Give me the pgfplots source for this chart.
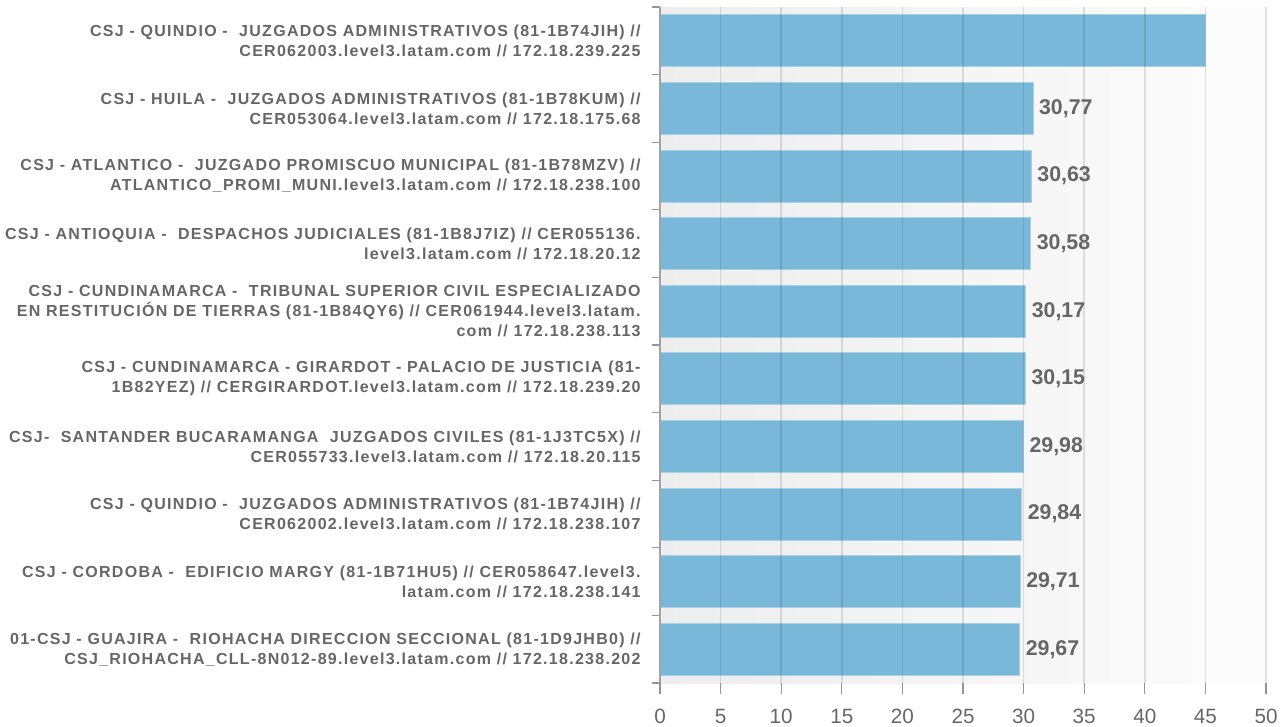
\documentclass[border=0pt]{standalone}
\usepackage{fontspec}
\setmainfont{Liberation Sans}
\newfontfamily\lblfont{Liberation Sans}[LetterSpace=8]
\usepackage{pgfplots}
\pgfplotsset{compat=1.18}
\definecolor{barc}{HTML}{7AB8D9}
\definecolor{txt}{HTML}{666666}

\begin{document}
\begin{tikzpicture}
\useasboundingbox (0,0) rectangle (966pt,-545.25pt);
\begin{axis}[
    at={(495pt,-512.25pt)}, anchor=south west,
    width=454.5pt, height=507pt, scale only axis,
    axis on top,
    xbar, bar width=39pt,
    xmin=0, xmax=50, xtick={0,5,...,50},
    ymin=-0.5, ymax=9.5, y dir=reverse,
    ytick={0,...,9},
    minor ytick={-0.5,0.5,...,9.5},
    tick align=outside,
    major tick length=8pt, minor tick length=6pt,
    every major y tick/.append style={draw=none},
    tick style={draw=txt!70, line width=1pt},
    axis lines*=left,
    x axis line style={draw=none},
    y axis line style={draw=txt!60, line width=1pt},
    xmajorgrids, grid style={draw=black, draw opacity=0.11, line width=1.2pt},
    axis background/.style={shade, left color=black!7, right color=black!1},
    /pgf/number format/assume math mode=true,
    xticklabel style={font=\fontsize{15.5}{18}\selectfont, text=txt, yshift=-8pt},
    yticklabel style={font=\lblfont\bfseries\fontsize{12}{15}\selectfont, text=txt, align=right, xshift=-3pt},
    yticklabels={
      {CSJ - QUINDIO - \ JUZGADOS ADMINISTRATIVOS (81-1B74JIH) //\\CER062003.level3.latam.com // 172.18.239.225},
      {CSJ - HUILA - \ JUZGADOS ADMINISTRATIVOS (81-1B78KUM) //\\CER053064.level3.latam.com // 172.18.175.68},
      {CSJ - ATLANTICO - \ JUZGADO PROMISCUO MUNICIPAL (81-1B78MZV) //\\ATLANTICO\_PROMI\_MUNI.level3.latam.com // 172.18.238.100},
      {CSJ - ANTIOQUIA - \ DESPACHOS JUDICIALES (81-1B8J7IZ) // CER055136.\\level3.latam.com // 172.18.20.12},
      {CSJ - CUNDINAMARCA - \ TRIBUNAL SUPERIOR CIVIL ESPECIALIZADO\\EN RESTITUCIÓN DE TIERRAS (81-1B84QY6) // CER061944.level3.latam.\\com // 172.18.238.113},
      {CSJ - CUNDINAMARCA - GIRARDOT - PALACIO DE JUSTICIA (81-\\1B82YEZ) // CERGIRARDOT.level3.latam.com // 172.18.239.20},
      {CSJ- \ SANTANDER BUCARAMANGA \ JUZGADOS CIVILES (81-1J3TC5X) //\\CER055733.level3.latam.com // 172.18.20.115},
      {CSJ - QUINDIO - \ JUZGADOS ADMINISTRATIVOS (81-1B74JIH) //\\CER062002.level3.latam.com // 172.18.238.107},
      {CSJ - CORDOBA - \ EDIFICIO MARGY (81-1B71HU5) // CER058647.level3.\\latam.com // 172.18.238.141},
      {01-CSJ - GUAJIRA - \ RIOHACHA DIRECCION SECCIONAL (81-1D9JHB0) //\\CSJ\_RIOHACHA\_CLL-8N012-89.level3.latam.com // 172.18.238.202}
    },
    mybar/.style={fill=barc, draw=barc!65!white, line width=0.6pt, bar shift=0pt},
    nodes near coords style={font=\bfseries\fontsize{16}{18}\selectfont, text=txt, anchor=west, xshift=1pt},
]
  % first bar carries no value label
  \addplot[mybar] coordinates {(44.97,0)};
  \addplot[mybar, nodes near coords={\pgfmathprintnumber[fixed,precision=2,fixed zerofill,use comma]{\pgfplotspointmeta}}]
    coordinates {
      (30.77,1)
      (30.63,2)
      (30.58,3)
      (30.17,4)
      (30.15,5)
      (29.98,6)
      (29.84,7)
      (29.71,8)
      (29.67,9)
    };
\end{axis}
\end{tikzpicture}
\end{document}
